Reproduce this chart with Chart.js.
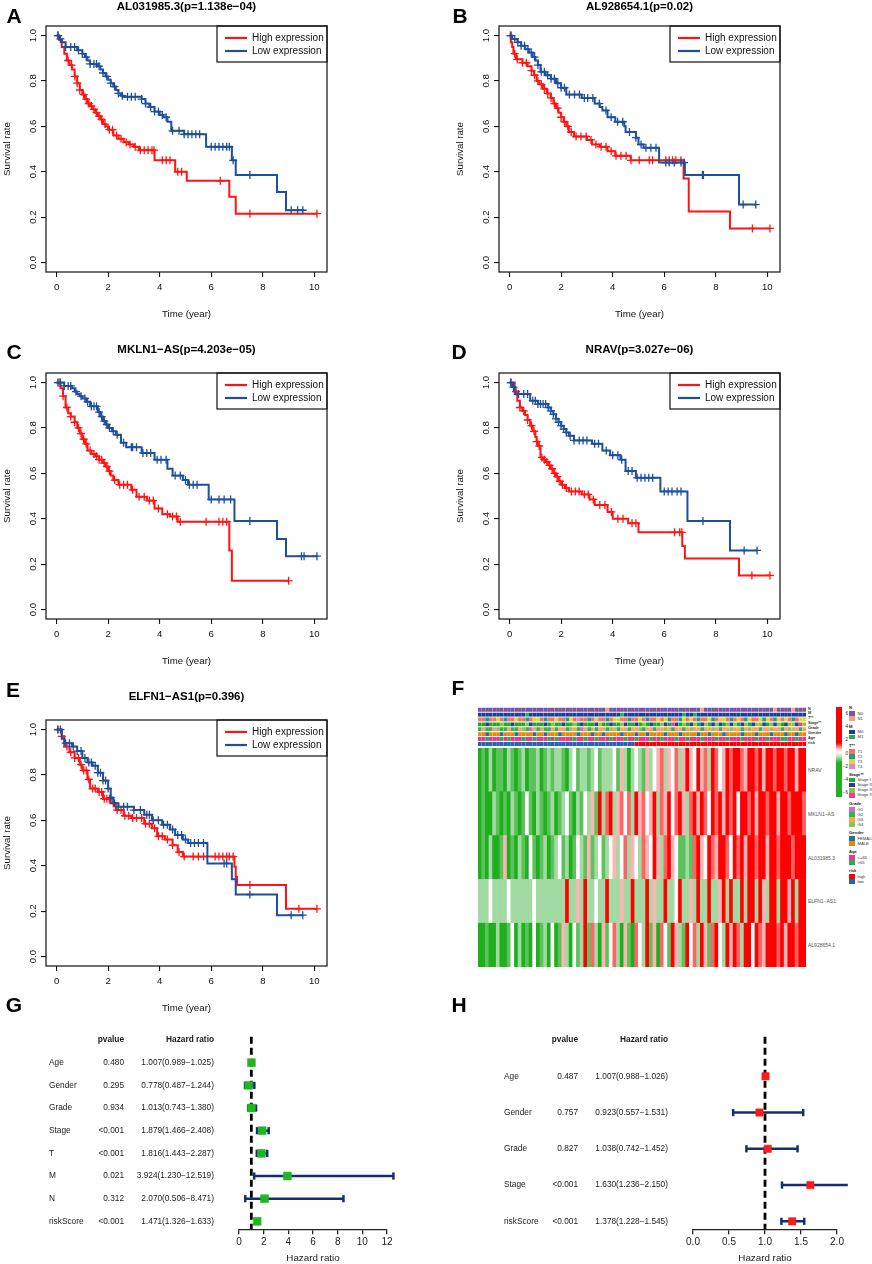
<!DOCTYPE html>
<html><head><meta charset="utf-8">
<script src="https://cdn.jsdelivr.net/npm/chart.js@4.4.1/dist/chart.umd.min.js"></script>
<style>
html,body{margin:0;padding:0;background:#fff;}
#page{position:relative;width:872px;height:1264px;overflow:hidden;font-family:"Liberation Sans",Arial,Helvetica,sans-serif;color:#000;background:#fff;}
.box{position:absolute;}
.t{position:absolute;white-space:nowrap;line-height:1;}
</style></head><body><div id="page"></div>
<script>
// ---------------- DATA ----------------
// Kaplan-Meier step curves: times (years) and survival after each step; censoring times
const KM_X_TICKS = [0, 2, 4, 6, 8, 10];
const KM_Y_TICKS = [0, 0.2, 0.4, 0.6, 0.8, 1.0];
const KM_LABELS = ['High expression', 'Low expression'];

// Panel A: AL031985.3
const A_high_t = [0,0.1,0.2,0.3,0.4,0.5,0.6,0.7,0.8,0.9,1.0,1.1,1.2,1.3,1.4,1.5,1.6,1.7,1.8,1.9,2.0,2.2,2.4,2.6,2.8,3.0,3.2,3.8,4.6,5.05,6.7,6.95,10.1];
const A_high_s = [1,0.98,0.95,0.92,0.89,0.87,0.85,0.82,0.79,0.76,0.74,0.72,0.70,0.69,0.675,0.66,0.645,0.63,0.61,0.60,0.585,0.56,0.545,0.53,0.52,0.51,0.495,0.45,0.40,0.36,0.29,0.215,0.215];
const A_high_c = [0.06,0.45,0.58,0.71,0.8,0.9,1.05,1.15,1.25,1.35,1.45,1.55,1.65,1.75,1.88,2.05,2.17,2.33,2.5,2.7,2.85,3.05,3.25,3.4,3.55,3.7,3.78,4.1,4.25,4.4,4.7,4.85,6.35,7.5,10.1];
const A_low_t = [0,0.1,0.2,0.35,0.8,1.0,1.1,1.2,1.3,1.6,1.7,1.8,1.9,2.0,2.1,2.2,2.3,2.4,2.5,2.6,3.3,3.45,3.6,3.8,4.0,4.15,4.3,4.45,4.95,5.8,6.8,6.95,8.55,8.9,9.6];
const A_low_s = [1,0.985,0.97,0.95,0.935,0.92,0.905,0.89,0.875,0.865,0.85,0.835,0.82,0.805,0.79,0.775,0.76,0.745,0.735,0.73,0.72,0.70,0.685,0.665,0.65,0.64,0.62,0.58,0.565,0.51,0.45,0.385,0.31,0.23,0.23];
const A_low_c = [0.05,0.15,0.35,0.55,0.7,0.85,1.0,1.15,1.3,1.45,1.55,1.65,1.8,1.95,2.1,2.25,2.4,2.55,2.75,2.9,3.05,3.3,3.45,3.65,3.8,3.95,4.1,4.25,4.5,4.75,4.95,5.1,5.25,5.4,5.55,6.0,6.15,6.3,6.45,6.6,6.7,6.85,7.5,9.1,9.35,9.55];

// Panel B: AL928654.1
const B_high_t = [0,0.05,0.1,0.15,0.25,0.5,0.7,0.85,0.95,1.05,1.15,1.3,1.45,1.6,1.7,1.8,1.9,2.0,2.1,2.2,2.3,2.5,3.0,3.2,3.5,3.8,4.1,4.7,6.75,6.95,8.55,10.1];
const B_high_s = [1,0.97,0.95,0.92,0.895,0.88,0.865,0.845,0.825,0.80,0.785,0.765,0.745,0.725,0.70,0.68,0.66,0.64,0.62,0.60,0.575,0.555,0.54,0.52,0.51,0.49,0.47,0.45,0.37,0.225,0.15,0.15];
const B_high_c = [0.03,0.2,0.3,0.5,0.65,0.85,0.97,1.1,1.23,1.35,1.48,1.61,1.74,1.87,2.0,2.13,2.26,2.39,2.58,2.77,2.97,3.16,3.35,3.55,3.74,3.94,4.13,4.32,4.52,4.71,5.03,5.42,5.55,6.06,6.19,6.32,6.45,6.65,9.42,10.1];
const B_low_t = [0,0.1,0.3,0.45,0.6,0.75,0.9,1.0,1.1,1.2,1.4,1.6,1.8,2.0,2.2,2.8,3.3,3.5,3.6,3.8,4.1,4.45,4.5,4.9,5.0,5.2,5.8,6.8,8.9,9.55];
const B_low_s = [1,0.985,0.97,0.955,0.94,0.925,0.905,0.89,0.87,0.84,0.825,0.81,0.79,0.77,0.74,0.725,0.70,0.685,0.67,0.64,0.62,0.60,0.575,0.55,0.52,0.505,0.44,0.385,0.255,0.255];
const B_low_c = [0.06,0.2,0.32,0.45,0.58,0.71,0.84,0.97,1.1,1.23,1.35,1.48,1.61,1.74,1.87,2.0,2.13,2.32,2.52,2.71,2.9,3.03,3.23,3.48,3.74,3.94,4.19,4.39,4.65,4.9,5.1,5.29,5.48,5.68,6.06,6.19,6.39,6.65,6.77,7.48,7.52,9.06,9.55];

// Panel C: MKLN1-AS
const C_high_t = [0,0.15,0.25,0.35,0.45,0.55,0.7,0.8,0.9,1.0,1.1,1.2,1.35,1.5,1.65,1.8,1.9,2.0,2.1,2.2,2.4,2.9,3.1,3.5,3.8,4.1,4.4,4.7,6.7,6.8,9.0];
const C_high_s = [1,0.975,0.94,0.89,0.865,0.85,0.825,0.80,0.775,0.75,0.73,0.70,0.685,0.675,0.66,0.645,0.63,0.61,0.59,0.57,0.55,0.527,0.497,0.48,0.445,0.42,0.41,0.387,0.26,0.126,0.126];
const C_high_c = [0.1,0.25,0.4,0.55,0.7,0.85,0.95,1.05,1.15,1.3,1.45,1.55,1.65,1.75,1.85,1.95,2.05,2.25,2.45,2.6,2.75,2.95,3.2,3.4,3.6,3.75,3.95,4.3,4.5,4.65,4.8,5.8,6.3,6.45,6.6,9.0];
const C_low_t = [0,0.3,0.6,0.7,0.8,0.9,1.0,1.15,1.3,1.6,1.7,1.8,1.9,2.0,2.15,2.3,2.5,2.7,3.3,3.8,4.3,4.5,4.9,5.1,5.9,6.9,8.55,8.9,10.1];
const C_low_s = [1,0.985,0.975,0.96,0.95,0.94,0.93,0.915,0.895,0.87,0.85,0.83,0.815,0.80,0.785,0.77,0.735,0.715,0.69,0.66,0.62,0.59,0.57,0.55,0.485,0.39,0.31,0.235,0.235];
const C_low_c = [0.05,0.15,0.3,0.45,0.55,0.75,0.95,1.1,1.2,1.35,1.45,1.55,1.65,1.75,1.85,1.95,2.05,2.2,2.35,2.6,2.9,2.95,3.1,3.35,3.5,3.65,3.9,4.05,4.25,4.6,4.8,5.0,5.15,5.3,5.45,6.0,6.3,6.5,6.75,7.5,9.5,9.6,10.1];

// Panel D: NRAV
const D_high_t = [0,0.2,0.3,0.4,0.5,0.6,0.7,0.8,0.9,1.0,1.05,1.1,1.2,1.3,1.4,1.5,1.6,1.7,1.8,1.9,2.0,2.15,2.3,2.8,3.1,3.3,3.8,4.0,4.6,5.0,6.7,6.8,8.9,10.1];
const D_high_s = [1,0.96,0.92,0.89,0.875,0.857,0.835,0.81,0.785,0.76,0.74,0.72,0.67,0.66,0.65,0.635,0.62,0.60,0.585,0.565,0.55,0.535,0.52,0.507,0.485,0.46,0.43,0.40,0.38,0.34,0.28,0.225,0.15,0.15];
const D_high_c = [0.05,0.25,0.4,0.55,0.7,0.85,0.95,1.05,1.15,1.25,1.35,1.45,1.55,1.65,1.75,1.85,1.95,2.05,2.2,2.4,2.55,2.7,2.9,3.05,3.25,3.5,3.7,3.95,4.2,4.4,4.75,4.9,6.4,6.6,6.68,9.4,10.1];
const D_low_t = [0,0.1,0.2,0.8,1.1,1.5,1.6,1.7,1.8,1.9,2.0,2.1,2.2,2.3,2.5,3.2,3.6,3.9,4.3,4.5,4.9,5.85,6.9,8.55,9.6];
const D_low_s = [1,0.98,0.95,0.92,0.905,0.89,0.875,0.86,0.84,0.825,0.81,0.795,0.78,0.765,0.745,0.73,0.70,0.68,0.66,0.61,0.58,0.52,0.39,0.26,0.26];
const D_low_c = [0.05,0.15,0.35,0.55,0.7,0.9,1.0,1.1,1.2,1.3,1.4,1.5,1.6,1.7,1.8,1.9,2.0,2.1,2.2,2.35,2.5,2.7,2.85,3.0,3.3,3.45,3.75,4.0,4.2,4.35,4.6,4.75,4.95,5.1,5.25,5.4,5.55,6.0,6.15,6.3,6.5,6.65,7.5,9.1,9.6];

// Panel E: ELFN1-AS1
const E_high_t = [0,0.2,0.3,0.5,0.7,0.9,1.0,1.2,1.3,1.6,1.8,2.1,2.3,2.6,2.9,3.4,3.7,3.9,4.2,4.5,4.7,4.9,6.9,6.95,7.0,8.9,10.1];
const E_high_s = [1,0.97,0.925,0.90,0.875,0.845,0.82,0.78,0.74,0.725,0.695,0.675,0.645,0.62,0.61,0.585,0.565,0.53,0.515,0.49,0.46,0.44,0.395,0.35,0.315,0.21,0.21];
const E_high_c = [0.05,0.2,0.4,0.55,0.7,0.85,0.95,1.05,1.15,1.25,1.4,1.5,1.65,1.75,1.85,1.95,2.05,2.2,2.35,2.5,2.65,2.8,2.95,3.1,3.3,3.45,3.6,3.8,3.95,4.1,4.3,4.5,4.75,4.95,5.3,5.5,5.7,6.15,6.3,6.45,6.6,6.7,6.85,7.5,9.4,10.1];
const E_low_t = [0,0.2,0.3,0.6,0.8,1.0,1.2,1.4,1.6,1.8,2.0,2.1,2.2,2.4,3.0,3.4,3.7,4.1,4.4,4.6,4.9,5.1,5.85,6.8,6.95,8.55,9.55];
const E_low_s = [1,0.96,0.94,0.925,0.905,0.875,0.855,0.84,0.81,0.775,0.74,0.70,0.675,0.66,0.645,0.625,0.60,0.58,0.56,0.535,0.515,0.50,0.41,0.34,0.273,0.182,0.182];
const E_low_c = [0.05,0.15,0.35,0.5,0.65,0.8,0.95,1.1,1.25,1.35,1.5,1.6,1.7,1.8,1.9,2.0,2.1,2.25,2.4,2.6,2.75,3.0,3.25,3.5,3.6,3.75,3.95,4.15,4.3,4.5,4.7,4.85,5.0,5.2,5.35,5.5,5.7,6.5,6.6,7.5,9.1,9.55];

// Heatmap (panel F): expression levels -3..3 per sample column (sorted by risk)
const HM_GENES = ['NRAV', 'MKLN1\u2212AS', 'AL031985.3', 'ELFN1\u2212AS1', 'AL928654.1'];
const NRAV_expr = [-3,-2,-3,-1,-3,-2,-2,-3,-1,-2, -3,-2,-1,-3,-2,-2,-1,-3,-2,-1, -2,-1,-1,-2,-3,-1,0,-2,-1,-1, -2,-1,0,-2,-1,-1,-1,0,-2,1, -1,-3,-1,0,-1,-2,1,-1,0,1, 2,-1,1,0,2,-1,1,3,1,0, 3,1,2,-1,3,2,0,1,3,2, 3,3,2,1,3,3,2,3,1,3, 3,2,3,3,2,3,3,1,3,3];
const MKLN1_expr = [-3,-2,-3,-3,-1,-2,-3,-2,-3,-1, -2,-3,-2,0,-2,-3,-1,-2,-3,-2, -1,-3,-2,-1,0,-2,-3,-1,-2,0, -1,1,-2,3,-1,2,3,-1,1,2, 0,2,-1,3,1,2,0,1,3,-1, 2,1,3,0,2,3,1,-1,2,3, 1,3,2,0,3,2,3,1,3,2, 3,0,3,3,2,3,1,3,3,2, 3,3,1,3,3,2,3,3,3,2];
const AL031_expr = [-3,-2,-3,-1,-3,-3,-2,1,-3,-2, -3,-1,-2,-3,0,-2,-3,-2,-1,-3, -2,-1,0,-2,-1,-3,-2,0,-1,-2, 1,-2,-1,0,-2,-1,0,1,-1,0, 2,-1,1,0,-1,2,1,0,3,1, -1,2,3,1,0,-2,-2,-1,-2,2, 3,1,0,3,2,1,3,3,2,0, 3,2,3,1,3,3,2,3,3,1, 3,3,2,3,3,3,2,3,3,3];
const ELFN_expr = [-1,-1,-1,0,-1,-1,-1,-1,0,-1, -1,-1,-1,-1,-1,0,-1,-1,-1,-1, -1,-1,-1,-1,3,-1,-1,1,-1,3, -1,-1,0,-1,-1,3,-1,-1,-1,1, -1,-1,3,-1,-1,-1,3,-1,1,-1, -1,3,-1,-1,0,3,-1,-1,1,-1, 3,-1,-1,3,-1,-1,1,3,-1,3, -1,-1,3,-1,3,3,-1,3,1,-1, 3,3,-1,3,3,1,3,-1,3,3];
const AL928_expr = [-3,-3,-2,-3,-3,-1,-3,-3,-2,0, -3,-1,-3,-2,-3,0,-3,-2,-1,-3, 0,-3,-2,1,-1,-3,0,-2,-1,3, -2,2,-1,-3,1,-2,0,2,-1,-3, 1,-2,-3,2,0,-1,3,-2,1,-3, 2,0,-2,3,1,-1,-2,3,0,2, -1,3,1,-2,2,3,0,-1,3,1, 3,2,-1,3,3,0,3,2,1,3, 3,3,2,3,1,3,3,2,3,3];

// Annotation tracks (codes)
const N_code = [0,0,0,0,0,0,0,0,0,0, 0,0,0,0,0,0,0,0,0,0, 0,0,0,0,0,0,0,0,0,0, 0,0,0,0,0,1,0,0,0,0, 0,0,0,0,0,0,0,0,0,0, 0,0,0,0,0,0,0,0,0,0, 0,1,0,0,0,0,0,0,0,0, 0,0,0,0,0,0,0,0,0,0, 0,1,0,0,0,0,1,0,0,0];
const M_code = [0,0,0,0,0,0,0,0,0,0, 0,0,0,1,0,0,0,0,0,0, 0,0,0,0,0,0,0,0,0,0, 0,0,0,0,0,0,0,0,0,1, 0,0,0,0,0,0,0,0,0,0, 0,0,0,0,0,0,1,0,0,1, 0,0,0,0,0,0,0,0,0,0, 0,0,0,0,0,0,0,0,0,0, 0,0,0,0,0,0,0,0,0,0];
const T_code = [1,1,2,1,1,3,1,2,1,1, 3,1,1,2,1,3,3,1,2,1, 1,3,1,1,2,3,1,4,1,1, 2,1,3,1,1,2,1,3,3,1, 1,2,1,1,3,1,2,1,1,3, 1,3,2,1,1,2,3,1,3,1, 2,1,1,3,2,1,3,3,1,2, 1,3,1,2,3,1,1,3,2,3, 1,2,3,1,3,1,2,1,3,3];
const Stage_code = [1,1,2,1,1,1,3,1,1,2, 1,1,1,3,2,1,1,1,2,1, 3,1,1,2,1,1,3,1,2,1, 1,1,2,3,1,1,2,1,1,3, 2,1,1,2,1,3,1,2,1,1, 3,2,1,4,2,1,3,1,2,3, 1,2,3,1,2,3,2,1,3,2, 3,1,2,3,1,2,3,3,2,1, 3,2,3,1,2,3,3,2,4,3];
const Grade_code = [2,3,2,2,3,4,2,2,3,2, 2,3,4,2,1,3,2,3,2,2, 3,2,3,3,2,4,3,2,1,3, 2,3,2,3,3,2,4,3,2,3, 3,2,3,3,4,2,3,3,2,3, 3,4,3,2,3,3,2,3,4,3, 3,2,3,3,4,3,2,3,3,4, 3,3,2,3,4,3,3,2,3,3, 4,3,3,2,3,4,3,3,2,3];
const Gender_code = [2,2,1,2,2,2,1,2,2,2, 1,2,2,2,2,1,2,2,1,2, 2,2,1,2,2,2,2,1,2,2, 2,1,2,2,1,2,2,2,2,1, 2,2,2,1,2,2,1,2,2,2, 2,1,2,2,2,1,2,2,2,2, 1,2,2,1,2,2,2,1,2,2, 2,2,1,2,2,2,1,2,2,2, 1,2,2,2,1,2,2,1,2,2];
const Age_code = [1,1,2,1,1,1,2,1,2,1, 1,1,2,1,1,2,1,1,1,2, 1,2,1,1,1,1,2,1,1,2, 1,1,2,1,1,1,2,1,1,1, 2,1,1,2,1,1,1,2,1,1, 2,1,1,1,2,1,1,2,1,1, 1,2,1,1,1,2,1,1,2,1, 1,1,2,1,1,1,2,1,1,2, 1,1,1,2,2,1,1,2,1,1];
const Risk_code = [0,0,0,0,0,0,0,0,0,0, 0,0,0,0,0,0,0,0,0,0, 0,0,0,0,0,0,0,0,0,0, 0,0,0,0,0,0,0,0,0,0, 0,0,0,1,1,1,1,1,1,1, 1,1,1,1,1,1,1,1,1,1, 1,1,1,1,1,1,1,1,1,1, 1,1,1,1,1,1,1,1,1,1, 1,1,1,1,1,1,1,1,1,1];
const HM_SCALE_LABELS = ['6', '4', '2', '0', '\u22122', '\u22124', '\u22126'];

// Forest plot G (univariate)
const G_vars = ['Age','Gender','Grade','Stage','T','M','N','riskScore'];
const G_pval = ['0.480','0.295','0.934','<0.001','<0.001','0.021','0.312','<0.001'];
const G_hr = [1.007,0.778,1.013,1.879,1.816,3.924,2.070,1.471];
const G_lo = [0.989,0.487,0.743,1.466,1.443,1.230,0.506,1.326];
const G_hi = [1.025,1.244,1.380,2.408,2.287,12.519,8.471,1.633];
const G_ticks = [0,2,4,6,8,10,12];
// Forest plot H (multivariate)
const H_vars = ['Age','Gender','Grade','Stage','riskScore'];
const H_pval = ['0.487','0.757','0.827','<0.001','<0.001'];
const H_hr = [1.007,0.923,1.038,1.630,1.378];
const H_lo = [0.988,0.557,0.742,1.236,1.228];
const H_hi = [1.026,1.531,1.452,2.150,1.545];
const H_ticks = [0,0.5,1.0,1.5,2.0];

// ---------------- RENDER ----------------
const FONT = '"Liberation Sans", Arial, Helvetica, sans-serif';
Chart.defaults.font.family = FONT;
Chart.defaults.color = '#111';
Chart.defaults.animation = false;
Chart.defaults.events = [];
Chart.defaults.plugins.legend.display = false;
Chart.defaults.plugins.tooltip.enabled = false;

const page = document.getElementById('page');
function addText(txt, x, y, o = {}) {
  const d = document.createElement('div');
  d.className = 't'; d.textContent = txt;
  d.style.left = x + 'px'; d.style.top = y + 'px';
  d.style.fontSize = (o.size || 10) + 'px';
  if (o.bold) d.style.fontWeight = 'bold';
  if (o.color) d.style.color = o.color;
  const a = o.anchor || 'c';
  d.style.transform = a === 'c' ? 'translate(-50%,-50%)' : a === 'l' ? 'translate(0,-50%)' : 'translate(-100%,-50%)';
  page.appendChild(d);
  return d;
}
function addCanvas(left, top, w, h) {
  const d = document.createElement('div');
  d.className = 'box';
  d.style.left = left + 'px'; d.style.top = top + 'px';
  d.style.width = w + 'px'; d.style.height = h + 'px';
  const c = document.createElement('canvas');
  c.width = w; c.height = h;
  c.style.width = w + 'px'; c.style.height = h + 'px';
  d.appendChild(c); page.appendChild(d);
  return c;
}
function addSquare(x, y, w, h, col) {
  const d = document.createElement('div');
  d.className = 'box';
  d.style.left = x + 'px'; d.style.top = y + 'px';
  d.style.width = w + 'px'; d.style.height = h + 'px';
  d.style.background = col;
  page.appendChild(d);
}

const HIGH_COLOR = '#ff1414';
const LOW_COLOR = '#1d4f9d';

function survAt(ts, ss, t) {
  let v = ss[0];
  for (let i = 0; i < ts.length; i++) { if (ts[i] <= t + 1e-9) v = ss[i]; else break; }
  return v;
}

const boxPlugin = {
  id: 'rbox',
  afterDraw(chart) {
    const { ctx, chartArea: a } = chart;
    ctx.save(); ctx.strokeStyle = '#111'; ctx.lineWidth = 1.2;
    ctx.strokeRect(a.left, a.top, a.right - a.left, a.bottom - a.top);
    ctx.restore();
  }
};
function kmLegendPlugin(labels, colors) {
  return {
    id: 'kmLegend',
    afterDatasetsDraw(chart) {
      const { ctx, chartArea: a } = chart;
      const w = 110, h = 36, x0 = a.right - w, y0 = a.top;
      ctx.save();
      ctx.fillStyle = '#fff'; ctx.fillRect(x0, y0, w, h);
      ctx.strokeStyle = '#111'; ctx.lineWidth = 1.2; ctx.strokeRect(x0, y0, w, h);
      labels.forEach((lab, i) => {
        const y = y0 + 12 + i * 13;
        ctx.strokeStyle = colors[i]; ctx.lineWidth = 2.2;
        ctx.beginPath(); ctx.moveTo(x0 + 8, y); ctx.lineTo(x0 + 30, y); ctx.stroke();
        ctx.fillStyle = '#111'; ctx.font = '10px ' + FONT; ctx.textBaseline = 'middle'; ctx.textAlign = 'left';
        ctx.fillText(lab, x0 + 35, y + 0.5);
      });
      ctx.restore();
    }
  };
}

function makeKM(areaLeft, areaTop, hi, lo) {
  const AW = 281, AH = 246, YAXW = 46, XAXH = 52, PT = 26;
  const padR = Math.min(109, Math.floor(872 - (areaLeft + AW)));
  const W = YAXW + AW + padR, H = PT + AH + XAXH;
  const cv = addCanvas(areaLeft - YAXW, areaTop - PT, W, H);
  const lineDs = (ts, ss, col) => ({
    data: ts.map((t, i) => ({ x: t, y: ss[i] })), borderColor: col, borderWidth: 2,
    pointRadius: 0, stepped: true, fill: false, tension: 0
  });
  const censDs = (ts, ss, cs, col) => ({
    data: cs.map(t => ({ x: t, y: survAt(ts, ss, t) })), showLine: false,
    pointStyle: 'cross', pointRadius: 4, pointBorderColor: col, pointBorderWidth: 1.3,
    pointBackgroundColor: col, borderColor: col
  });
  new Chart(cv, {
    type: 'line',
    data: { datasets: [
      lineDs(lo[0], lo[1], LOW_COLOR), censDs(lo[0], lo[1], lo[2], LOW_COLOR),
      lineDs(hi[0], hi[1], HIGH_COLOR), censDs(hi[0], hi[1], hi[2], HIGH_COLOR)
    ] },
    options: {
      responsive: false,
      layout: { padding: { top: PT, right: padR, left: 0, bottom: 0 } },
      scales: {
        x: {
          type: 'linear', min: -0.41, max: 10.49,
          afterBuildTicks: s => { s.ticks = KM_X_TICKS.map(v => ({ value: v })); },
          afterFit: s => { s.height = XAXH; },
          grid: { drawOnChartArea: false, drawTicks: true, tickLength: 5, color: '#111', lineWidth: 1.1 },
          border: { display: false },
          ticks: { font: { size: 9.6 }, color: '#111', padding: 5, maxRotation: 0, autoSkip: false, callback: v => String(v) },
          title: { display: true, text: 'Time (year)', font: { size: 9.7 }, color: '#111', padding: { top: 0, bottom: 4 } }
        },
        y: {
          type: 'linear', min: -0.042, max: 1.042,
          afterBuildTicks: s => { s.ticks = KM_Y_TICKS.map(v => ({ value: v })); },
          afterFit: s => { s.width = YAXW; },
          grid: { drawOnChartArea: false, drawTicks: true, tickLength: 5, color: '#111', lineWidth: 1.1 },
          border: { display: false },
          ticks: { font: { size: 9.6 }, color: '#111', minRotation: 90, maxRotation: 90, crossAlign: 'center', padding: 1, autoSkip: false, callback: v => Number(v).toFixed(1) },
          title: { display: true, text: 'Survival rate', font: { size: 9.7 }, color: '#111', padding: { top: 2, bottom: 0 } }
        }
      }
    },
    plugins: [boxPlugin, kmLegendPlugin(KM_LABELS, [HIGH_COLOR, LOW_COLOR])]
  });
}

makeKM(46, 26, [A_high_t, A_high_s, A_high_c], [A_low_t, A_low_s, A_low_c]);
makeKM(499, 26, [B_high_t, B_high_s, B_high_c], [B_low_t, B_low_s, B_low_c]);
makeKM(46, 373, [C_high_t, C_high_s, C_high_c], [C_low_t, C_low_s, C_low_c]);
makeKM(499, 373, [D_high_t, D_high_s, D_high_c], [D_low_t, D_low_s, D_low_c]);
makeKM(46, 720, [E_high_t, E_high_s, E_high_c], [E_low_t, E_low_s, E_low_c]);

// ---- Heatmap F ----
const EXPR_COLORS = { '-3': '#1eae1e', '-2': '#5cc25c', '-1': '#a3d9a3', '0': '#ffffff', '1': '#ffb3b3', '2': '#ff6464', '3': '#ff0000' };
const N_COLORS = ['#7b52a8', '#f4a07a'];
const M_COLORS = ['#1a3f9a', '#22b14c'];
const T_COLORS = [null, '#ef7460', '#21998c', '#e3d23a', '#d88ac6'];
const STAGE_COLORS = [null, '#1faa2a', '#283c9a', '#8cc63e', '#f03c9a'];
const GRADE_COLORS = [null, '#c86ec8', '#32b34b', '#f7a55a', '#8dc647'];
const GENDER_COLORS = [null, '#1e73a8', '#e08a12'];
const AGE_COLORS = [null, '#f7308f', '#22b14c'];
const RISK_COLORS = ['#2166b3', '#ff0000'];
const colLabels = NRAV_expr.map((_, i) => i + 1);

function cellBar(codes, palette, withGap) {
  return {
    data: codes.map(() => 1),
    backgroundColor: codes.map(c => palette[c]),
    borderColor: '#ffffff',
    borderWidth: withGap ? { top: 1.1, right: 0, bottom: 0, left: 0 } : 0,
    borderSkipped: false,
    barPercentage: 1, categoryPercentage: 1
  };
}
function heatChart(canvas, datasets, nRows) {
  new Chart(canvas, {
    type: 'bar',
    data: { labels: colLabels, datasets },
    options: {
      responsive: false,
      layout: { padding: 0 },
      scales: {
        x: { stacked: true, display: false },
        y: { stacked: true, display: false, min: 0, max: nRows }
      }
    }
  });
}
// annotation tracks (bottom -> top in stack)
const annCanvas = addCanvas(478, 707, 328, 39);
heatChart(annCanvas, [
  cellBar(Risk_code, RISK_COLORS, true),
  cellBar(Age_code, AGE_COLORS, true),
  cellBar(Gender_code, GENDER_COLORS, true),
  cellBar(Grade_code, GRADE_COLORS, true),
  cellBar(Stage_code, STAGE_COLORS, true),
  cellBar(T_code, T_COLORS, true),
  cellBar(M_code, M_COLORS, true),
  cellBar(N_code, N_COLORS, true)
], 8);
const geneCanvas = addCanvas(478, 748, 328, 219);
heatChart(geneCanvas, [AL928_expr, ELFN_expr, AL031_expr, MKLN1_expr, NRAV_expr].map(v => cellBar(v, EXPR_COLORS, false)), 5);

// heatmap labels
const annLabels = ['N', 'M', 'T**', 'Stage**', 'Grade', 'Gender', 'Age', 'risk'];
annLabels.forEach((l, i) => addText(l, 808, 709.5 + i * 4.875, { size: 3.8, anchor: 'l', color: '#333', bold: true }));
HM_GENES.forEach((g, i) => addText(g, 808, 748 + 21.9 + i * 43.8, { size: 5, anchor: 'l', color: '#555' }));
// colour key
(function () {
  const d = document.createElement('div');
  d.className = 'box';
  d.style.left = '836px'; d.style.top = '707px'; d.style.width = '6px'; d.style.height = '90px';
  d.style.background = 'linear-gradient(to bottom,#ff0000 0%,#ff0000 40%,#ffd0d0 47%,#ffffff 50%,#c8ecc8 54%,#22b022 62%,#22b022 100%)';
  page.appendChild(d);
})();
HM_SCALE_LABELS.forEach((l, i) => addText(l, 848, 714 + i * 13.2, { size: 4.5, anchor: 'r', color: '#222' }));
// legend groups
const HM_LEGEND = [
  ['N', 708, [['N0', N_COLORS[0]], ['N1', N_COLORS[1]]]],
  ['M', 726.5, [['M0', M_COLORS[0]], ['M1', M_COLORS[1]]]],
  ['T**', 746, [['T1', T_COLORS[1]], ['T2', T_COLORS[2]], ['T3', T_COLORS[3]], ['T4', T_COLORS[4]]]],
  ['Stage**', 774.5, [['Stage I', STAGE_COLORS[1]], ['Stage II', STAGE_COLORS[2]], ['Stage III', STAGE_COLORS[3]], ['Stage IV', STAGE_COLORS[4]]]],
  ['Grade', 804, [['G1', GRADE_COLORS[1]], ['G2', GRADE_COLORS[2]], ['G3', GRADE_COLORS[3]], ['G4', GRADE_COLORS[4]]]],
  ['Gender', 833, [['FEMALE', GENDER_COLORS[1]], ['MALE', GENDER_COLORS[2]]]],
  ['Age', 852, [['<=65', AGE_COLORS[1]], ['>65', AGE_COLORS[2]]]],
  ['risk', 871, [['high', RISK_COLORS[1]], ['low', RISK_COLORS[0]]]]
];
HM_LEGEND.forEach(([head, y, items]) => {
  addText(head, 849, y, { size: 4.2, anchor: 'l', bold: true, color: '#222' });
  items.forEach(([lab, col], j) => {
    const yy = y + 5.5 + j * 5.1;
    addSquare(849, yy - 2.4, 6, 4.8, col);
    addText(lab, 857.5, yy, { size: 4.2, anchor: 'l', color: '#333' });
  });
});

// ---- Forest plots ----
const CI_COLOR = '#14306c';
function forestTablePlugin(cfg) {
  return {
    id: 'ftable',
    afterDraw(chart) {
      const { ctx } = chart; const ys = chart.scales.y;
      ctx.save(); ctx.fillStyle = '#1a1a1a'; ctx.textBaseline = 'middle';
      const y0 = ys.getPixelForValue(0);
      ctx.font = 'bold 8.3px ' + FONT; ctx.textAlign = 'right';
      ctx.fillText('pvalue', cfg.pX, y0);
      ctx.fillText('Hazard ratio', cfg.hrX, y0);
      ctx.font = '8.3px ' + FONT;
      cfg.vars.forEach((v, i) => {
        const py = ys.getPixelForValue(i + 1);
        ctx.textAlign = 'left'; ctx.fillText(v, cfg.labX, py);
        ctx.textAlign = 'right'; ctx.fillText(cfg.p[i], cfg.pX, py);
        ctx.fillText(cfg.hr[i].toFixed(3) + '(' + cfg.lo[i].toFixed(3) + '\u2212' + cfg.hi[i].toFixed(3) + ')', cfg.hrX, py);
      });
      ctx.restore();
    }
  };
}
function makeForest(o) {
  const W = 436, H = 264;
  const cv = addCanvas(o.left, 1000, W, H);
  const rows = o.hr.map((_, i) => i + 1);
  const ciData = [];
  rows.forEach((r, i) => { ciData.push({ x: o.lo[i], y: r }, { x: o.hi[i], y: r }, { x: o.hi[i], y: null }); });
  const capData = [];
  rows.forEach((r, i) => { capData.push({ x: o.lo[i], y: r }, { x: o.hi[i], y: r }); });
  new Chart(cv, {
    type: 'scatter',
    data: { datasets: [
      { data: rows.map((r, i) => ({ x: o.hr[i], y: r })), pointStyle: 'rect', pointRadius: o.sq, backgroundColor: o.boxColor, borderColor: o.boxColor, pointBorderWidth: 0.5, showLine: false, clip: false },
      { data: capData, pointStyle: 'line', rotation: 90, pointRadius: 3.6, borderColor: CI_COLOR, pointBorderWidth: 2.5, showLine: false, clip: false },
      { data: ciData, showLine: true, spanGaps: false, borderColor: CI_COLOR, borderWidth: 2.4, pointRadius: 0, clip: false },
      { data: [{ x: 1, y: o.yTop }, { x: 1, y: o.yMax }], showLine: true, borderColor: '#000', borderWidth: 2.8, borderDash: [7, 4], pointRadius: 0, clip: false }
    ] },
    options: {
      responsive: false,
      layout: { padding: { top: o.padTop, left: o.padLeft, right: o.padRight, bottom: 0 } },
      scales: {
        x: {
          type: 'linear', min: o.xMin, max: o.xMax,
          afterBuildTicks: s => { s.ticks = o.ticks.map(v => ({ value: v })); },
          afterFit: s => { s.height = o.xAxH; },
          grid: { drawOnChartArea: false, drawTicks: true, tickLength: 5, color: '#222', lineWidth: 1.3 },
          border: { display: true, color: '#222', width: 1.3 },
          ticks: { font: { size: 10 }, color: '#222', padding: 1.5, autoSkip: false, maxRotation: 0, callback: o.fmt },
          title: { display: true, text: 'Hazard ratio', font: { size: 9.8 }, color: '#222', padding: { top: 0, bottom: 0 } }
        },
        y: { type: 'linear', display: false, reverse: true, min: o.yMin, max: o.yMax }
      }
    },
    plugins: [forestTablePlugin(o.table)]
  });
}
makeForest({
  left: 0, hr: G_hr, lo: G_lo, hi: G_hi, ticks: G_ticks, fmt: v => String(v),
  xMin: 0, xMax: 12, yMin: -0.2, yMax: 8.35, yTop: -0.15,
  padTop: 35.5, padLeft: 239, padRight: 49, xAxH: 34.7, sq: 5.6, boxColor: '#22b522',
  table: { vars: G_vars, p: G_pval, hr: G_hr, lo: G_lo, hi: G_hi, labX: 49, pX: 124, hrX: 214 }
});
makeForest({
  left: 436, hr: H_hr, lo: H_lo, hi: H_hi, ticks: H_ticks, fmt: v => Number(v).toFixed(1),
  xMin: 0, xMax: 2, yMin: -0.1, yMax: 5.22, yTop: -0.09,
  padTop: 36.4, padLeft: 257, padRight: 35, xAxH: 34.7, sq: 5.2, boxColor: '#ff1a1a',
  table: { vars: H_vars, p: H_pval, hr: H_hr, lo: H_lo, hi: H_hi, labX: 68, pX: 142, hrX: 232 }
});

// ---- titles and panel letters ----
const TITLES = [
  ['AL031985.3(p=1.138e\u221204)', 186.5, 7],
  ['AL928654.1(p=0.02)', 639.5, 7],
  ['MKLN1\u2212AS(p=4.203e\u221205)', 186.5, 350],
  ['NRAV(p=3.027e\u221206)', 639.5, 350],
  ['ELFN1\u2212AS1(p=0.396)', 186.5, 697]
];
TITLES.forEach(([t, x, y]) => addText(t, x, y, { size: 11.5, bold: true }));
const LETTERS = [['A', 14, 14.5], ['B', 460, 14.5], ['C', 14, 350.5], ['D', 459, 350.5], ['E', 13, 688.5], ['F', 458, 687], ['G', 14, 1003.5], ['H', 459, 1003.5]];
LETTERS.forEach(([t, x, y]) => addText(t, x, y, { size: 21, bold: true }));
</script></body></html>
